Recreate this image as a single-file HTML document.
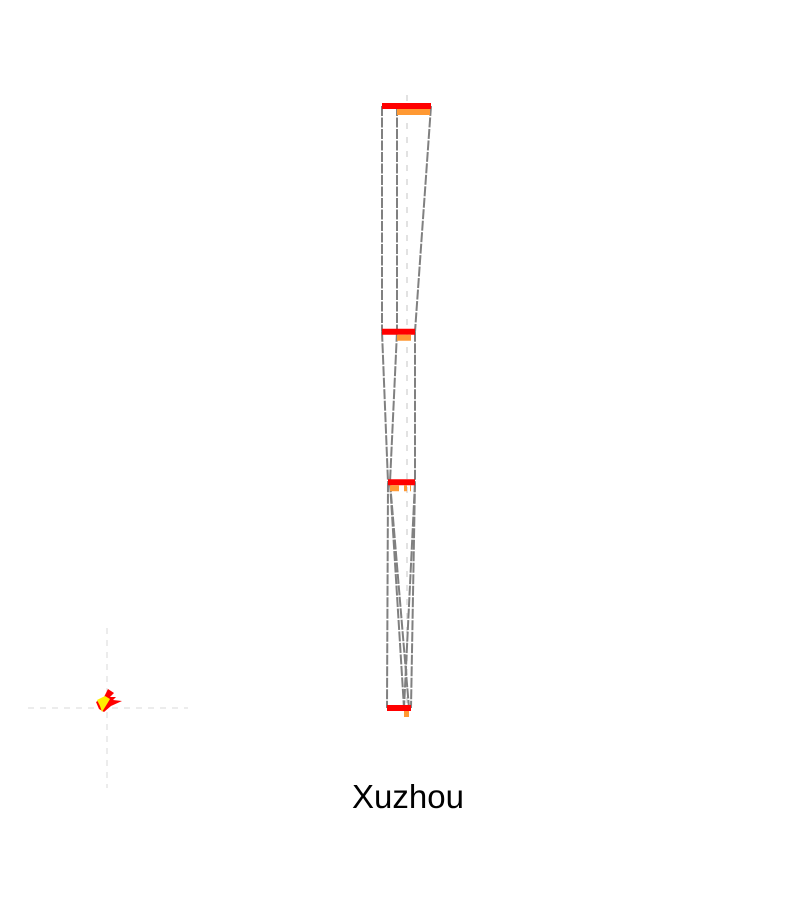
<!DOCTYPE html>
<html><head><meta charset="utf-8"><style>
html,body{margin:0;padding:0;background:#fff;}
svg{display:block;}
</style></head><body>
<svg id="chart" width="800" height="900">
<text x="408" y="808" text-anchor="middle" font-family="Liberation Sans, sans-serif" font-size="33" fill="#000">Xuzhou</text>
</svg>
<script>
// data
const stages = [0, 1, 2, 3];
const stageValue = [0, 150, 250, 400];
const redLeft = [-25, -25, -19, -20];
const redRight = [24, 8, 8, 4];
const orangeLeft = [-10, -10, -17, -3];
const orangeRight = [23, 4, -8, 2];
const orangeExtra = [[], [], [[-3, 0], [3, 4]], []];

const svg = document.getElementById('chart');
const NS = 'http://www.w3.org/2000/svg';
const cx = 407;
const y = v => 106 + v * (708 - 106) / 400;
const x = v => cx + v;

function mk(tag, attrs) {
  const e = document.createElementNS(NS, tag);
  for (const k in attrs) e.setAttribute(k, attrs[k]);
  svg.appendChild(e);
  return e;
}

let g = mk('line', {x1: cx, y1: 95, x2: cx, y2: 722, stroke: '#d8d8d8', 'stroke-dasharray': '6,8', 'stroke-width': 1.5});



for (let i = 0; i < stages.length - 1; i++) {
  const pairs = [[redLeft, redLeft], [redRight, redRight], [orangeLeft, orangeLeft]];
  if (i === 2) pairs.push([orangeLeft, orangeRight], [redRight, orangeLeft]);
  pairs.forEach(p => {
    const l = mk('line', {x1: x(p[0][i]), y1: y(stageValue[i]), x2: x(p[1][i + 1]), y2: y(stageValue[i + 1]),
      stroke: '#808080', 'stroke-width': 2, 'stroke-dasharray': '10,1.5'});
    
    
  });
}

stages.forEach(i => {
  const yy = y(stageValue[i]);
  const r = mk('rect', {x: x(redLeft[i]), y: yy - 3, width: redRight[i] - redLeft[i], height: 6, fill: '#ff0000'});
  
  
  const o = mk('rect', {x: x(orangeLeft[i]), y: yy + 3, width: orangeRight[i] - orangeLeft[i], height: 6, fill: '#ff9933'});
  
  
  orangeExtra[i].forEach(s => {
    const e = mk('rect', {x: x(s[0]), y: yy + 3, width: s[1] - s[0], height: 6, fill: '#ff9933'});
    
    
  });
});

const h = mk('line', {x1: 28, y1: 708, x2: 188, y2: 708, stroke: '#d8d8d8', 'stroke-dasharray': '6,6'});


const v = mk('line', {x1: 107, y1: 628, x2: 107, y2: 788, stroke: '#d8d8d8', 'stroke-dasharray': '6,6'});


const m1 = mk('polygon', {points: '96,702 104,697 108,689 114,693 110,697 116,697 113,700 122,701 111,706 104,712 99,709', fill: '#ff0000'});


const m2 = mk('polygon', {points: '97,700 105,696 110,699 107,704 102,712 100,706', fill: '#ffee00'});


</script>
</body></html>
